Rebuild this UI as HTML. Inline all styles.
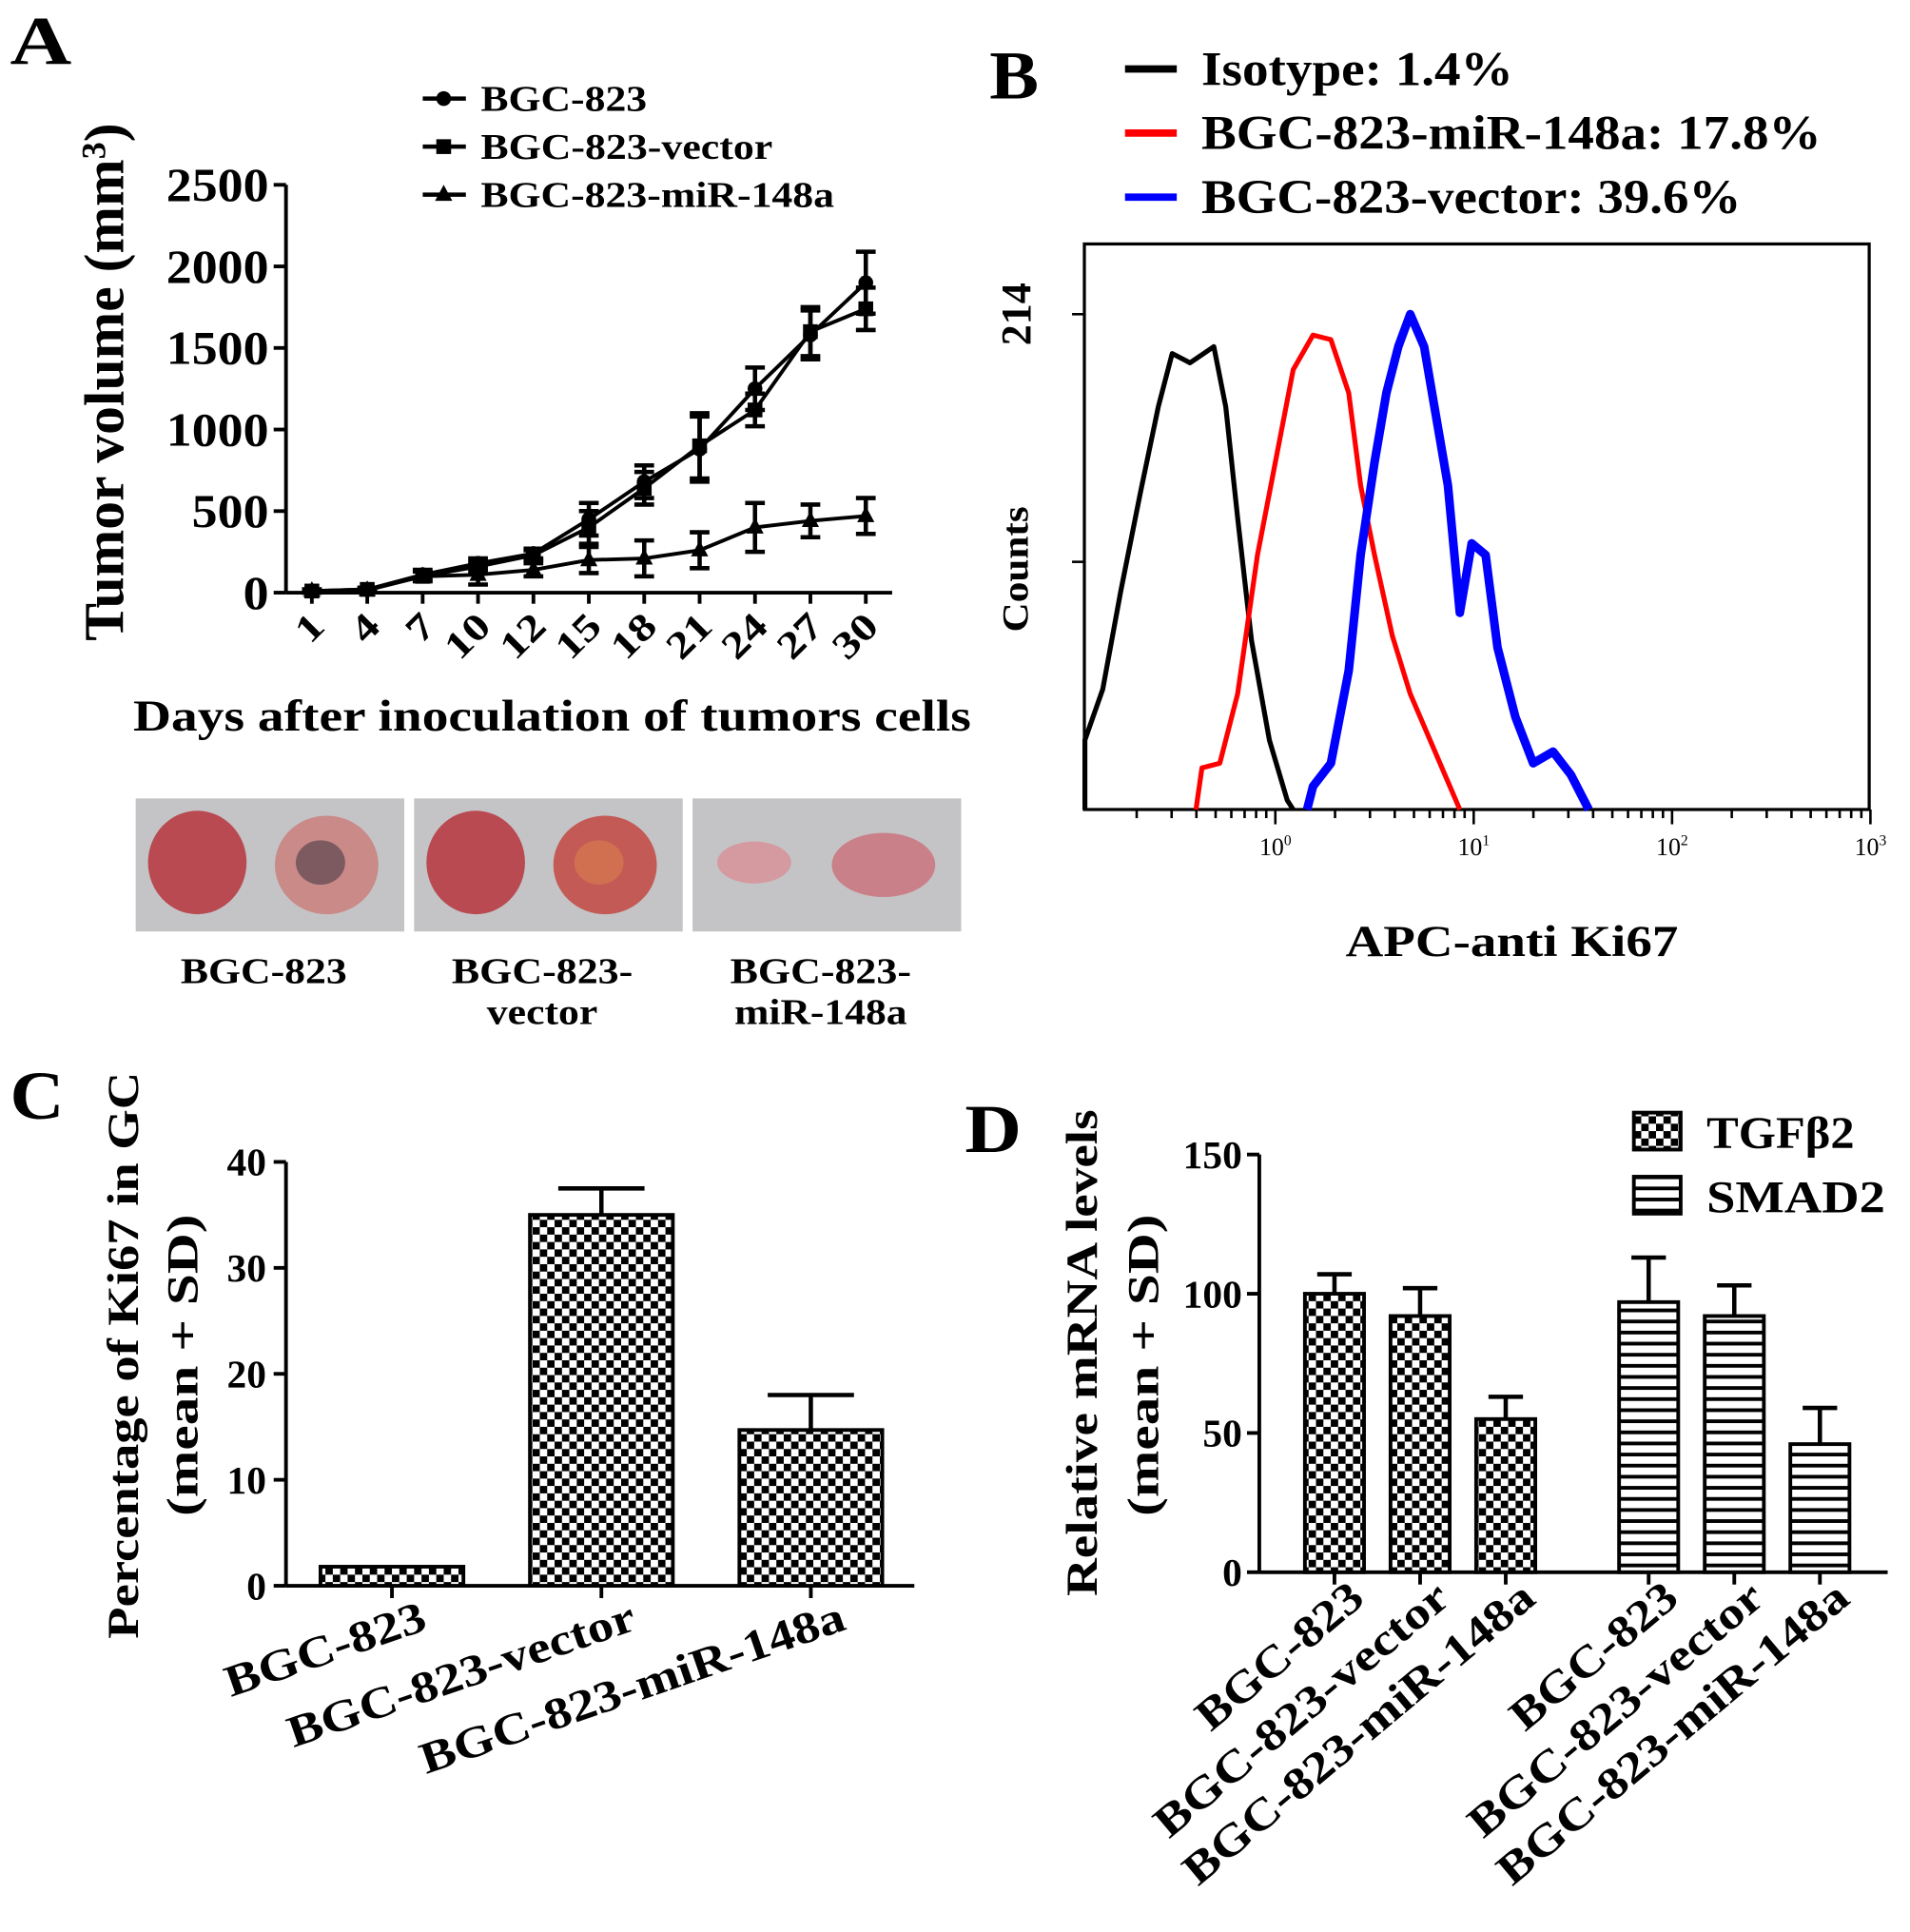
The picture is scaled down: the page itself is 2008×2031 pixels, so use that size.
<!DOCTYPE html>
<html><head><meta charset="utf-8"><style>
html,body{margin:0;padding:0;background:#fff}
svg{display:block}
text{font-family:"Liberation Serif",serif;font-weight:bold;fill:#000}
</style></head><body>
<svg id="fig" width="2008" height="2031" viewBox="0 0 1550 1568" xmlns="http://www.w3.org/2000/svg">
<defs>
<pattern id="chk" width="12" height="12" patternUnits="userSpaceOnUse"><rect width="12" height="12" fill="#fff"/><rect width="6" height="6" fill="#000"/><rect x="6" y="6" width="6" height="6" fill="#000"/></pattern>
<pattern id="hst" width="10" height="9" patternUnits="userSpaceOnUse"><rect width="10" height="9" fill="#fff"/><rect width="10" height="3" fill="#000"/></pattern>
</defs>
<g id="A"></g>
<g id="B"></g>
<g id="C"></g>
<g id="D"></g>
</svg>
<script>
// Panel A data
const aDays=["1","4","7","10","12","15","18","21","24","27","30"];
const aBGC=[10,20,110,180,240,450,680,880,1250,1580,1900];
const aBGCerr=[10,10,30,30,30,100,100,200,130,150,190];
const aVec=[10,20,100,160,230,400,640,900,1120,1600,1740];
const aVecErr=[10,10,30,30,30,100,100,200,100,150,130];
const aMiR=[10,15,100,110,140,200,210,260,400,440,470];
const aMiRerr=[10,10,30,60,40,80,110,110,150,100,110];
const aYTicks=[0,500,1000,1500,2000,2500];
// Panel B data (log10 fluorescence, counts)
const bBlackX=[-0.96,-0.87,-0.78,-0.68,-0.59,-0.52,-0.43,-0.31,-0.25,-0.19,-0.12,-0.03,0.06,0.09];
const bBlackY=[30,52,94,137,174,197,193,200,174,126,73,30,4,0];
const bRedX=[-0.40,-0.37,-0.28,-0.19,-0.09,0,0.09,0.19,0.28,0.37,0.43,0.50,0.59,0.68,0.78,0.87,0.93];
const bRedY=[0,18,20,50,110,150,190,205,203,180,140,110,75,50,30,12,0];
const bBlueX=[0.16,0.19,0.28,0.37,0.43,0.50,0.56,0.62,0.68,0.75,0.81,0.87,0.93,0.99,1.06,1.12,1.21,1.30,1.40,1.49,1.58];
const bBlueY=[0,10,20,60,110,150,180,200,214,200,170,140,85,115,110,70,40,20,25,15,0];
// Panel C data
const cCats=["BGC-823","BGC-823-vector","BGC-823-miR-148a"];
const cVals=[1.8,35,14.7];
const cErr=[0,2.5,3.3];
const cYTicks=[0,10,20,30,40];
// Panel D data
const dCats=["BGC-823","BGC-823-vector","BGC-823-miR-148a","BGC-823","BGC-823-vector","BGC-823-miR-148a"];
const dVals=[100,92,55,97,92,46];
const dErr=[7,10,8,16,11,13];
const dYTicks=[0,50,100,150];

const NS="http://www.w3.org/2000/svg";
function el(parent,tag,attrs,txt){const e=document.createElementNS(NS,tag);for(const k in attrs)e.setAttribute(k,attrs[k]);if(txt!==undefined)e.textContent=txt;parent.appendChild(e);return e;}
function fit(e,len){e.setAttribute('textLength',len);e.setAttribute('lengthAdjust','spacingAndGlyphs');}

// ---------- Panel A ----------
(function(){
const g=document.getElementById('A');
const ay=v=>481-v*(331/2500);
const ax=i=>253+i*44.96;
let t=el(g,'text',{x:8,y:52,'font-size':56},'A');fit(t,50);


let l=el(g,'line',{x1:232,y1:150,x2:232,y2:481,stroke:'#000','stroke-width':3});


l=el(g,'line',{x1:232,y1:481,x2:724,y2:481,stroke:'#000','stroke-width':3});


aYTicks.forEach(v=>{
 el(g,'line',{x1:222,y1:ay(v),x2:232,y2:ay(v),stroke:'#000','stroke-width':3});
 const s=String(v);
 const tt=el(g,'text',{x:218,y:ay(v)+13,'font-size':38,'text-anchor':'end'},s);
 fit(tt,s.length*20.8);
 
 
});
aDays.forEach((d,i)=>{
 el(g,'line',{x1:ax(i),y1:481,x2:ax(i),y2:490,stroke:'#000','stroke-width':3});
 const tt=el(g,'text',{x:ax(i)+12,y:510,'font-size':31,'text-anchor':'end',transform:`rotate(-45 ${ax(i)+12} 510)`},d);
 fit(tt,d.length*19);
 
 
});
t=el(g,'text',{x:0,y:0,'font-size':46,'text-anchor':'middle',transform:'translate(100 310) rotate(-90)'});
t.innerHTML='Tumor volume (mm<tspan dy="-15" font-size="28">3</tspan><tspan dy="15">)</tspan>';


t=el(g,'text',{x:448,y:593,'font-size':36,'text-anchor':'middle'},'Days after inoculation of tumors cells');fit(t,680);


const series=[[aBGC,aBGCerr,'circle','BGC-823',135],[aVec,aVecErr,'square','BGC-823-vector',237],[aMiR,aMiRerr,'tri','BGC-823-miR-148a',287]];
series.forEach(([vals,errs,m,name,tl],si)=>{
 const sg=el(g,'g',{});
 
 
 el(sg,'polyline',{points:vals.map((v,i)=>ax(i)+','+ay(v)).join(' '),fill:'none',stroke:'#000','stroke-width':3});
 vals.forEach((v,i)=>{
  const x=ax(i),y=ay(v);
  el(sg,'path',{d:`M${x} ${ay(v+errs[i])}V${ay(Math.max(0,v-errs[i]))}M${x-8} ${ay(v+errs[i])}h16M${x-8} ${ay(Math.max(0,v-errs[i]))}h16`,stroke:'#000','stroke-width':3.5,fill:'none'});
  let mk;
  if(m==='circle')mk=el(sg,'circle',{cx:x,cy:y,r:6});
  else if(m==='square')mk=el(sg,'rect',{x:x-6,y:y-6,width:12,height:12});
  else mk=el(sg,'polygon',{points:`${x},${y-8} ${x-7},${y+5} ${x+7},${y+5}`});
  
  
 });
 const ly=80+si*39;
 el(g,'line',{x1:343,y1:ly,x2:378,y2:ly,stroke:'#000','stroke-width':3.5});
 if(m==='circle')el(g,'circle',{cx:360,cy:ly,r:6});
 else if(m==='square')el(g,'rect',{x:354,y:ly-6,width:12,height:12});
 else el(g,'polygon',{points:`360,${ly-8} 353,${ly+5} 367,${ly+5}`});
 const lt=el(g,'text',{x:390,y:ly+10,'font-size':29},name);fit(lt,tl);
 
 
});
// photos
const photos=[[110,'BGC-823','',135,0],[336,'BGC-823-','vector',147,90],[562,'BGC-823-','miR-148a',147,140]];
photos.forEach(([x,l1,l2,w1,w2],i)=>{
 const pg=el(g,'g',{});
 
 
 el(pg,'rect',{x:x,y:648,width:218,height:108,fill:'#c4c4c6'});
 if(i<2){
  el(pg,'ellipse',{cx:x+50,cy:700,rx:40,ry:42,fill:'#b94a52'});
  el(pg,'ellipse',{cx:x+155,cy:702,rx:42,ry:40,fill:i==0?'#c98a88':'#c35a55'});
  el(pg,'ellipse',{cx:x+150,cy:700,rx:20,ry:18,fill:i==0?'#7c5a60':'#d07050'});
 }else{
  el(pg,'ellipse',{cx:x+50,cy:700,rx:30,ry:17,fill:'#d49aa0'});
  el(pg,'ellipse',{cx:x+155,cy:702,rx:42,ry:26,fill:'#c98088'});
 }
 const tx=x+104;
 let a=el(g,'text',{x:tx,y:798,'font-size':29,'text-anchor':'middle'},l1);fit(a,w1);
 
 
 if(l2){a=el(g,'text',{x:tx,y:831,'font-size':29,'text-anchor':'middle'},l2);fit(a,w2);
 
 }
});
})();

// ---------- Panel B ----------
(function(){
const g=document.getElementById('B');
const bx=lg=>1035+lg*161;
const by=c=>657-c*(402/214);
let t=el(g,'text',{x:803,y:80,'font-size':56},'B');fit(t,40);


const leg=[['#000','Isotype: 1.4%',253],['#f00','BGC-823-miR-148a: 17.8%',503],['#00f','BGC-823-vector: 39.6%',438]];
leg.forEach(([c,s,w],i)=>{
 const y=56+i*52;
 el(g,'line',{x1:913,y1:y,x2:955,y2:y,stroke:c,'stroke-width':6});
 const lt=el(g,'text',{x:975,y:y+13,'font-size':39},s);fit(lt,w);
 
 
});
let r=el(g,'rect',{x:880,y:198,width:637,height:459,fill:'none',stroke:'#000','stroke-width':2.5});


[[214,'214'],[107,'']].forEach(([v,s])=>{
 el(g,'line',{x1:870,y1:by(v),x2:880,y2:by(v),stroke:'#000','stroke-width':2});
 if(s){const tt=el(g,'text',{x:0,y:0,'font-size':34,'text-anchor':'middle',transform:`translate(836 ${by(v)}) rotate(-90)`},s);
 
 }
});
t=el(g,'text',{x:0,y:0,'font-size':30,'text-anchor':'middle',transform:'translate(834 462) rotate(-90)'},'Counts');fit(t,102);


for(let d=-1;d<3;d++){for(let k=1;k<10;k++){const x=bx(d+Math.log10(k));if(x<880)continue;el(g,'line',{x1:x,y1:657,x2:x,y2:657+(k==1?12:7),stroke:'#000','stroke-width':2});}}
el(g,'line',{x1:bx(3),y1:657,x2:bx(3),y2:669,stroke:'#000','stroke-width':2});
[0,1,2,3].forEach(d=>{
 const tt=el(g,'text',{x:bx(d),y:694,'font-size':20,'text-anchor':'middle',style:'font-weight:normal'});
 tt.innerHTML=`10<tspan dy="-8" font-size="12">${d}</tspan>`;
 
 
});
t=el(g,'text',{x:1227,y:776,'font-size':36,'text-anchor':'middle'},'APC-anti Ki67');fit(t,270);


const step=(xs,ys)=>{let d=`M${bx(xs[0])} 657`;xs.forEach((x,i)=>{d+=`L${bx(x)} ${by(ys[i])}`;});return d+`L${bx(xs[xs.length-1])} 657`;};
[[bBlackX,bBlackY,'#000',4,'isotype-histogram'],[bRedX,bRedY,'#f00',4,'mir148a-histogram'],[bBlueX,bBlueY,'#00f',7,'vector-histogram']].forEach(([xs,ys,c,w,n])=>{
 const p=el(g,'path',{d:step(xs,ys),fill:'none',stroke:c,'stroke-width':w,'stroke-linejoin':'round'});
 
 
});
})();

// ---------- Panel C ----------
(function(){
const g=document.getElementById('C');
const cy=v=>1287-v*8.6;
const cx=i=>318+i*170;
const cLen=[170,296,362];
let t=el(g,'text',{x:8,y:908,'font-size':56},'C');fit(t,44);


el(g,'line',{x1:232,y1:943,x2:232,y2:1287,stroke:'#000','stroke-width':3});
el(g,'line',{x1:232,y1:1287,x2:742,y2:1287,stroke:'#000','stroke-width':3});
cYTicks.forEach(v=>{
 el(g,'line',{x1:222,y1:cy(v),x2:232,y2:cy(v),stroke:'#000','stroke-width':3});
 const tt=el(g,'text',{x:216,y:cy(v)+11,'font-size':32,'text-anchor':'end'},String(v));
 
 
});
cCats.forEach((c,i)=>{
 const x=cx(i);
 const b=el(g,'rect',{x:x-58,y:cy(cVals[i]),width:116,height:cy(0)-cy(cVals[i]),fill:'url(#chk)',stroke:'#000','stroke-width':3});
 
 
 if(cErr[i]>0)el(g,'path',{d:`M${x} ${cy(cVals[i])}V${cy(cVals[i]+cErr[i])}M${x-35} ${cy(cVals[i]+cErr[i])}h70`,stroke:'#000','stroke-width':3.5});
 el(g,'line',{x1:x,y1:1287,x2:x,y2:1297,stroke:'#000','stroke-width':3});
 const tt=el(g,'text',{x:x+30,y:1322,'font-size':36,'text-anchor':'end',transform:`rotate(-19 ${x+30} 1322)`},c);fit(tt,cLen[i]);
 
 
});
t=el(g,'text',{x:0,y:0,'font-size':36,'text-anchor':'middle',transform:'translate(112 1100) rotate(-90)'},'Percentage of Ki67 in GC');fit(t,460);


t=el(g,'text',{x:0,y:0,'font-size':36,'text-anchor':'middle',transform:'translate(160 1108) rotate(-90)'},'(mean + SD)');fit(t,245);


})();

// ---------- Panel D ----------
(function(){
const g=document.getElementById('D');
const dy=v=>1276-v*(339/150);
const dxs=i=>(i<3?1083:1338)+(i%3)*69.5;
const dLen=[165,300,360,165,300,360];
let t=el(g,'text',{x:783,y:935,'font-size':56},'D');fit(t,46);


el(g,'line',{x1:1022,y1:937,x2:1022,y2:1276,stroke:'#000','stroke-width':3});
el(g,'line',{x1:1022,y1:1276,x2:1532,y2:1276,stroke:'#000','stroke-width':3});
dYTicks.forEach(v=>{
 el(g,'line',{x1:1012,y1:dy(v),x2:1022,y2:dy(v),stroke:'#000','stroke-width':3});
 const tt=el(g,'text',{x:1008,y:dy(v)+11,'font-size':32,'text-anchor':'end'},String(v));
 
 
});
dCats.forEach((c,i)=>{
 const x=dxs(i);
 const b=el(g,'rect',{x:x-24,y:dy(dVals[i]),width:48,height:dy(0)-dy(dVals[i]),fill:i<3?'url(#chk)':'url(#hst)',stroke:'#000','stroke-width':3});
 
 
 el(g,'path',{d:`M${x} ${dy(dVals[i])}V${dy(dVals[i]+dErr[i])}M${x-14} ${dy(dVals[i]+dErr[i])}h28`,stroke:'#000','stroke-width':3.5});
 el(g,'line',{x1:x,y1:1276,x2:x,y2:1286,stroke:'#000','stroke-width':3});
 const tt=el(g,'text',{x:x+26,y:1300,'font-size':36,'text-anchor':'end',transform:`rotate(-40 ${x+26} 1300)`},c);fit(tt,dLen[i]);
 
 
});
[['url(#chk)','TGFβ2',903,120],['url(#hst)','SMAD2',955,145]].forEach(([f,s,y,w])=>{
 el(g,'rect',{x:1326,y:y,width:38,height:30,fill:f,stroke:'#000','stroke-width':3});
 const lt=el(g,'text',{x:1385,y:y+29,'font-size':37,style:'font-family:"Liberation Serif","DejaVu Serif",serif'},s);fit(lt,w);
 
 
});
t=el(g,'text',{x:0,y:0,'font-size':36,'text-anchor':'middle',transform:'translate(890 1098) rotate(-90)'},'Relative mRNA levels');fit(t,395);


t=el(g,'text',{x:0,y:0,'font-size':36,'text-anchor':'middle',transform:'translate(940 1108) rotate(-90)'},'(mean + SD)');fit(t,245);


})();
</script>
</body></html>
